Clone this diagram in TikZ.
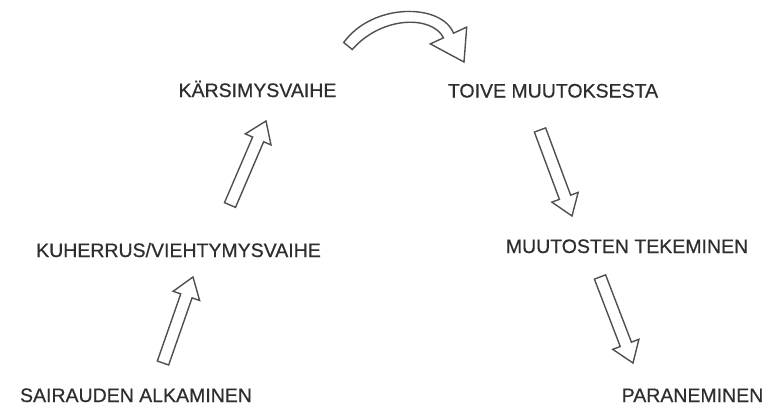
\documentclass[tikz,border=0pt]{standalone}
\usepackage{fontspec}
\setmainfont{Liberation Sans}
\newfontfamily\labelfont{Liberation Sans}[FakeBold=0.5]
\usetikzlibrary{calc}
\definecolor{ink}{HTML}{2E2E2E}
\definecolor{arrowgray}{HTML}{505050}
\tikzset{
  label/.style={anchor=base, inner sep=0pt, text=ink, font=\labelfont\fontsize{19.5}{20}\selectfont},
  blockarrow/.style={draw=arrowgray, line width=1.4pt, fill=white, line join=miter},
}
\newcommand{\blockarr}[2]{%
  \coordinate (hb) at ($(#2)!20pt!(#1)$);
  \draw[blockarrow] ($(#1)!6pt!90:(#2)$) -- ($(hb)!6pt!-90:(#1)$) -- ($(hb)!14pt!-90:(#1)$)
    -- (#2) -- ($(hb)!14pt!90:(#1)$) -- ($(hb)!6pt!90:(#1)$) -- ($(#1)!6pt!-90:(#2)$) -- cycle;
}
\begin{document}
\begin{tikzpicture}[x=1pt,y=-1pt]
\useasboundingbox[fill=white] (0,0) rectangle (770,405);
% labels
\node[label] (kars)  at (257.5,97)  {KÄRSIMYSVAIHE};
\node[label] (toive) at (553,97.5)  {TOIVE MUUTOKSESTA};
\node[label] (kuh)   at (178.5,257) {KUHERRUS/VIEHTYMYSVAIHE};
\node[label] (muut)  at (627,253)   {MUUTOSTEN TEKEMINEN};
\node[label] (sair)  at (136,402)   {SAIRAUDEN ALKAMINEN};
\node[label] (para)  at (692.5,402) {PARANEMINEN};
% arrow end points
\coordinate (a1s) at (163,363); \coordinate (a1e) at (193,277);
\coordinate (a2s) at (230,205); \coordinate (a2e) at (266,121);
\coordinate (a3s) at (540,130); \coordinate (a3e) at (572,216);
\coordinate (a4s) at (600,277); \coordinate (a4e) at (633,363);
\blockarr{a1s}{a1e}
\blockarr{a2s}{a2e}
\blockarr{a3s}{a3e}
\blockarr{a4s}{a4e}
% curved arrow
\draw[blockarrow] (352.3,49.5) -- (343.7,42.5)
  .. controls (373,2.1) and (441.9,3.4) .. (453.5,33.2)
  -- (466.7,27.1) -- (464,62) -- (430.3,43.9) -- (443.5,37.8)
  .. controls (431.9,15.0) and (381.5,15.9) .. (352.3,49.5) -- cycle;
\end{tikzpicture}
\end{document}
